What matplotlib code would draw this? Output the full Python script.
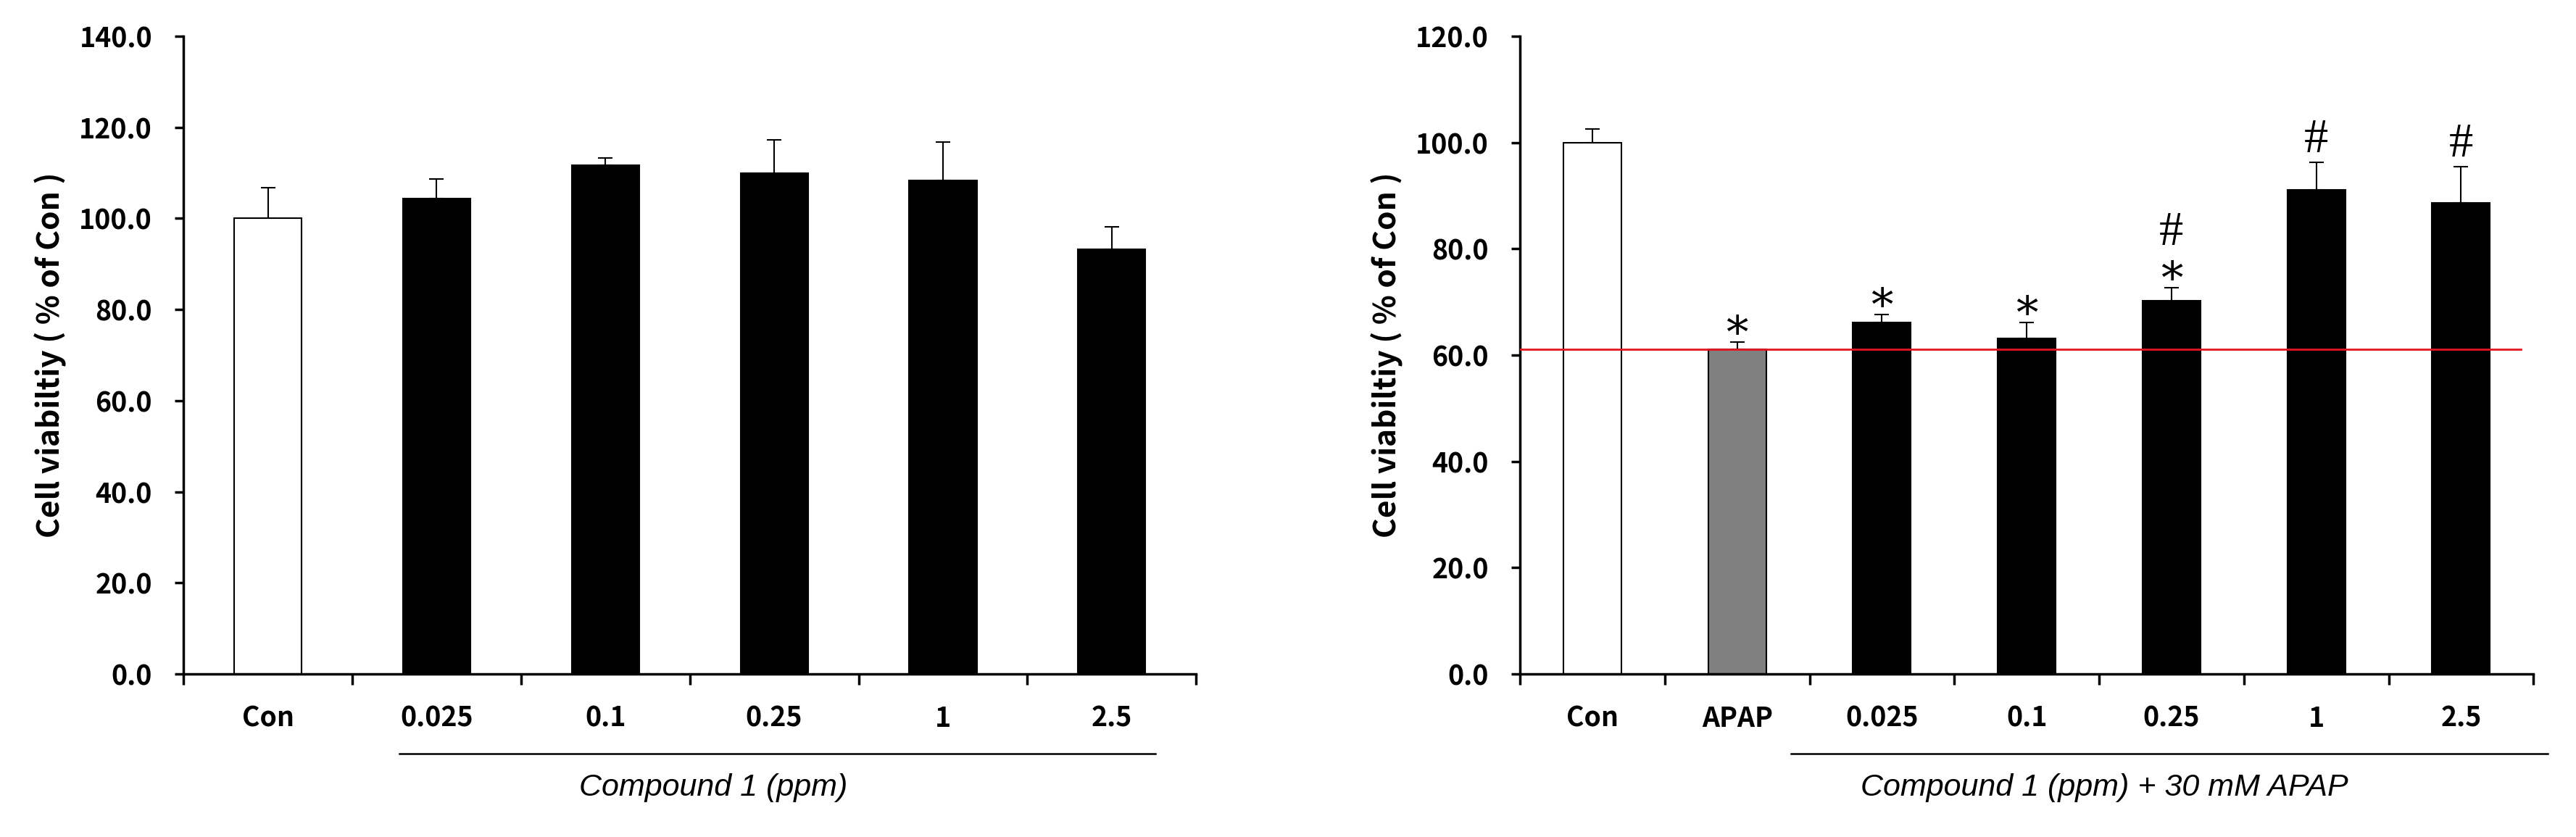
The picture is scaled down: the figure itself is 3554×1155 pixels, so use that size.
import numpy as np
import matplotlib
matplotlib.use("Agg")
import matplotlib.pyplot as plt
import matplotlib.transforms as mtransforms

# left panel: compound 1 alone
left_labels = ["Con", "0.025", "0.1", "0.25", "1", "2.5"]
left_means = [100.0, 104.4, 111.7, 109.9, 108.4, 93.3]
left_errs = [6.7, 4.3, 1.5, 7.3, 8.4, 4.8]
left_colors = ["white", "black", "black", "black", "black", "black"]

# right panel: compound 1 + 30 mM APAP
right_labels = ["Con", "APAP", "0.025", "0.1", "0.25", "1", "2.5"]
right_means = [100.0, 61.05, 66.1, 63.2, 70.2, 91.1, 88.6]
right_errs = [2.6, 1.35, 1.5, 2.9, 2.5, 5.2, 6.8]
right_colors = ["white", "#808080", "black", "black", "black", "black", "black"]
right_star = [False, True, True, True, True, False, False]
right_hash = [False, False, False, False, True, True, True]

BOLD = ["Noto Sans CJK KR", "DejaVu Sans"]
ITAL = ["Liberation Sans", "DejaVu Sans"]


def draw_panel(ax, labels, means, errs, colors, ymax, group_text, group_x, text_x):
    x = np.arange(len(labels))
    ax.bar(x, means, width=0.4, color=colors, edgecolor="black", linewidth=1.5, zorder=2)
    lower = np.zeros(len(means))
    ax.errorbar(x, means, yerr=[lower, errs], fmt="none", ecolor="black",
                elinewidth=1.5, capsize=7, capthick=1.5, zorder=1)
    ax.set_xlim(-0.5, len(labels) - 0.5)
    ax.set_ylim(0, ymax)
    ax.set_yticks(np.arange(0, ymax + 1, 20))
    ax.set_yticklabels([f"{v:.1f}" for v in np.arange(0, ymax + 1, 20)],
                       family=BOLD, fontweight="bold", fontsize=27)
    # ticks at category borders, labels at centres
    ax.set_xticks(np.arange(len(labels) + 1) - 0.5)
    ax.set_xticklabels([])
    ax.set_xticks(x, minor=True)
    ax.set_xticklabels(labels, minor=True, family=BOLD, fontweight="bold", fontsize=27)
    ax.tick_params(axis="x", which="major", direction="out", length=11, width=2.5)
    ax.tick_params(axis="x", which="minor", length=0, pad=30)
    ax.tick_params(axis="y", direction="out", length=9, width=2.5, pad=22)
    for side in ["top", "right"]:
        ax.spines[side].set_visible(False)
    for side in ["left", "bottom"]:
        ax.spines[side].set_linewidth(2.5)
    ax.set_ylabel("Cell viabiltiy ( % of Con )", family=BOLD, fontweight="bold", fontsize=30.5)
    ax.yaxis.set_label_coords(-0.115, 0.5)

    trans = mtransforms.blended_transform_factory(ax.transData, ax.transAxes)
    ax.plot(group_x, [-0.125, -0.125], color="black", lw=1.8, transform=trans, clip_on=False)
    ax.text(text_x, -0.178, group_text, transform=trans, ha="center", va="center",
            family=ITAL, style="italic", fontsize=31)


fig = plt.figure(figsize=(35.55, 11.55), dpi=100)
ax1 = fig.add_axes([0.0712, 0.1948, 0.3930, 0.7619])
ax2 = fig.add_axes([0.5899, 0.1948, 0.3933, 0.7619])

draw_panel(ax1, left_labels, left_means, left_errs, left_colors, 140,
           "Compound 1 (ppm)", [0.78, 5.26], 2.64)
draw_panel(ax2, right_labels, right_means, right_errs, right_colors, 120,
           "Compound 1 (ppm) + 30 mM APAP", [1.37, 6.6], 3.535)

# reference line at the APAP level
ax2.axhline(right_means[1], xmin=0, xmax=0.988, color="#e8141b", lw=2, zorder=3)

for i, (m, e) in enumerate(zip(right_means, right_errs)):
    top = m + e
    if right_star[i]:
        ax2.annotate("*", (i, top), xytext=(0, -15), textcoords="offset points",
                     ha="center", va="bottom", fontsize=44, family=["DejaVu Serif"])
    if right_hash[i]:
        off = 32 if right_star[i] else 0
        ax2.annotate("#", (i, top), xytext=(0, off), textcoords="offset points",
                     ha="center", va="bottom", fontsize=48, family=["Liberation Serif"])

fig.savefig("out.png", dpi=100, facecolor="white")
